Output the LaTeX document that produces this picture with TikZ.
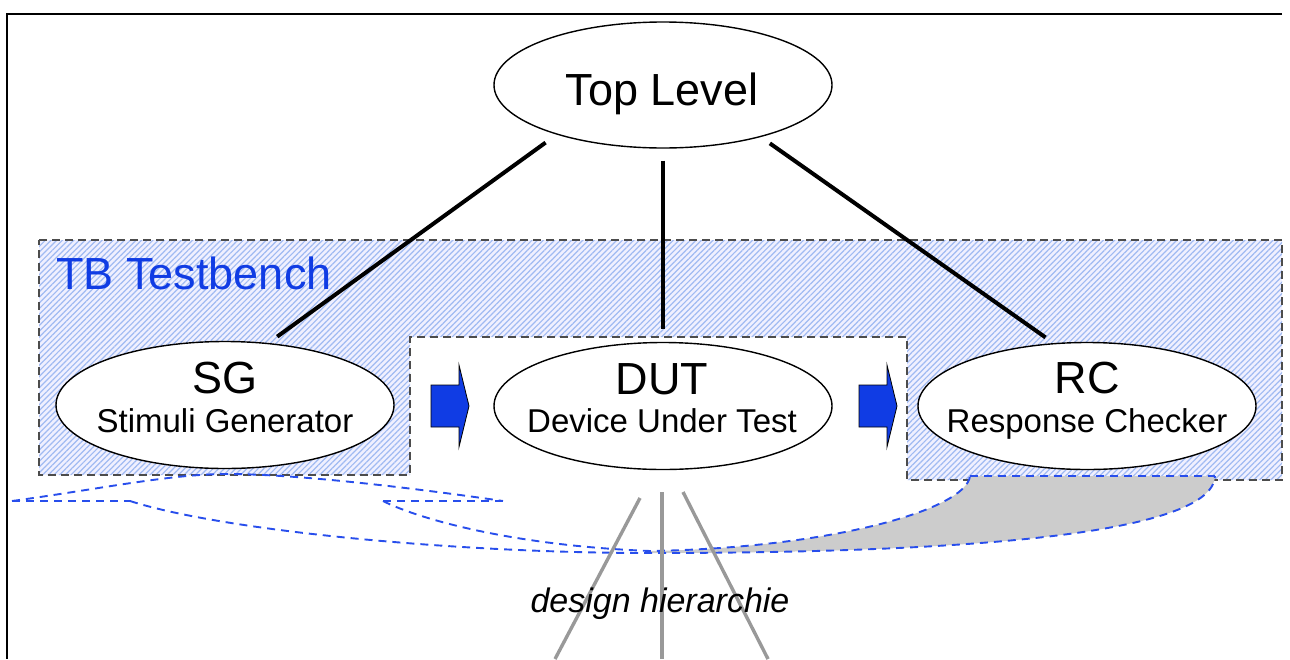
\documentclass[tikz,border=0pt]{standalone}
\usepackage{fontspec}
\setmainfont{Liberation Sans}
\usetikzlibrary{shapes.geometric,patterns.meta}

\definecolor{tbblue}{RGB}{16,60,228}
\definecolor{fanblue}{RGB}{40,78,236}
\definecolor{hatchblue}{RGB}{160,186,242}

\tikzset{
  unit/.style={ellipse,draw,line width=0.7pt,fill=white,minimum width=169pt,minimum height=63.5pt,inner sep=0pt},
  bigtext/.style={font=\fontsize{22.5}{27}\selectfont,anchor=base,inner sep=0pt},
  smalltext/.style={font=\fontsize{16.5}{20}\selectfont,anchor=base,inner sep=0pt},
  link/.style={line width=2pt},
  fan/.style={dash pattern=on 4pt off 3pt,fanblue,line width=0.95pt},
  flow/.style={fill=tbblue,draw=black,line width=0.4pt},
  hier/.style={black!40,line width=1.7pt}
}

\begin{document}
\begin{tikzpicture}[x=0.5pt,y=-0.5pt]
\useasboundingbox (0,0) rectangle (1290,659);
\draw [line width=0.7pt] (1282,14) -- (7,14) -- (7,659);

% testbench area, hatched
\draw [dash pattern=on 4pt off 2.5pt,line width=0.8pt,black!70,
  preaction={fill=blue!6},
  preaction={pattern={Lines[angle=45,distance=2pt,line width=0.6pt]},pattern color=hatchblue}]
  (39,240) -| (1282,480) -| (907,337) -| (410,475) -| (39,240) -- cycle;
\node [bigtext,anchor=base west,text=tbblue] (tb) at(56,289) {TB Testbench};

% fan of SG
\draw [fan] (12,501) .. controls (100,489) and (170,474) .. (227,474) .. controls (300,474) and (420,489) .. (503,501);
\draw [fan] (12,501) -- (130,501);
\draw [fan] (383,501) -- (503,501);

% fan of RC
\fill [gray!40] (650,551) .. controls (830,548) and (966,510) .. (970,476) -- (1215,476)
  .. controls (1213,530) and (1000,553) .. (650,553) -- cycle;
\draw [fan] (130,501) .. controls (220,530) and (450,553) .. (650,553) .. controls (1000,553) and (1213,530) .. (1215,476);
\draw [fan] (383,501) .. controls (410,515) and (500,545) .. (650,551) .. controls (830,548) and (966,510) .. (970,476);
\draw [fan] (970,476) -- (1215,476);

% units
\node [unit,minimum height=63pt] (top) at(663,85) {};
\node [unit] (sg) at(225,405) {};
\node [unit] (dut) at(663,406) {};
\node [unit] (rc) at(1087,406) {};

\node [bigtext] (toptext) at(662,105) {Top Level};
\node [bigtext] (sgname) at(225,393) {SG};
\node [smalltext] (sgfull) at(225,432) {Stimuli Generator};
\node [bigtext] (dutname) at(662,394) {DUT};
\node [smalltext] (dutfull) at(662,432) {Device Under Test};
\node [bigtext] (rcname) at(1087,393) {RC};
\node [smalltext] (rcfull) at(1087,432) {Response Checker};

\draw [link,shorten <=6.8pt,shorten >=5.4pt] (top.205) -- (sg.55);
\draw [link,shorten <=6pt,shorten >=6.5pt] (top) -- (dut);
\draw [link,shorten <=5.5pt,shorten >=4.9pt] (top.332) -- (rc.118);

% data flow
\foreach \x in {431,859}
  \draw [flow] (\x,385) -- ++(28,0) -- ++(0,-20) -- ++(10,41) -- ++(-10,41) -- ++(0,-20) -- ++(-28,0) -- cycle;

% hierarchy below DUT
\foreach \a/\ya/\b in {640/498/555,662/492/662,683/492/768}
  \draw [hier] (\a,\ya) coordinate (h\a) -- (\b,659) coordinate (f\a);
\node [smalltext,font=\itshape\fontsize{17}{20}\selectfont] (design) at(660,612) {design hierarchie};
\end{tikzpicture}
\end{document}
